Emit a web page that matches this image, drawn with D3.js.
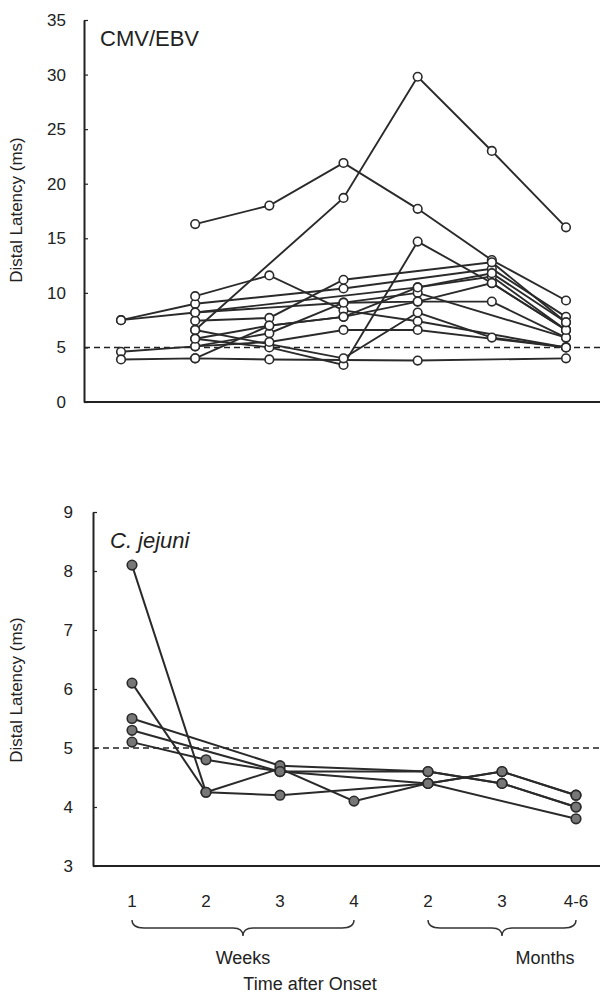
<!DOCTYPE html>
<html>
<head>
<meta charset="utf-8">
<script src="https://cdn.jsdelivr.net/npm/d3@7"></script>
<style>
  body { margin: 0; background: #fff; }
  text { font-family: "Liberation Sans", Arial, sans-serif; fill: #222; }
</style>
</head>
<body>
<div id="chart"></div>
<script>
// time points (x categories)
const timePoints = ["w1", "w2", "w3", "w4", "m2", "m3", "m46"];
const timeLabels = ["1", "2", "3", "4", "2", "3", "4-6"];

// top panel: CMV/EBV, distal latency (ms), null = not measured
const cmvSeries = [
  [null, 16.3, 18.0, 21.9, 17.7, 13.0, 9.3],
  [null, 6.6, null, 18.7, 29.8, 23.0, 16.0],
  [7.5, 9.0, null, 10.4, null, 12.2, 7.8],
  [7.5, 8.2, null, null, 10.5, 11.5, 6.6],
  [4.6, 5.1, 6.3, 9.1, 10.0, null, 5.9],
  [3.9, 4.0, 3.9, null, 3.8, null, 4.0],
  [null, 9.7, 11.6, 8.4, 7.4, null, 5.0],
  [null, 7.45, 7.7, 11.2, null, 12.8, 7.3],
  [null, 5.8, 5.0, 3.4, 14.7, 10.9, 6.6],
  [null, 5.1, 5.5, 6.6, 6.6, null, 5.0],
  [null, 4.0, 7.0, 7.8, 9.2, 9.2, 5.9],
  [null, 6.6, null, 4.0, 8.2, 5.9, 5.0],
  [null, 8.2, null, 9.1, 9.2, 10.9, 6.6],
  [null, 5.8, 7.0, 7.8, 10.5, 11.8, 7.3]
];
const cmvTicks = [0, 5, 10, 15, 20, 25, 30, 35];

// bottom panel: C. jejuni
const cjSeries = [
  [8.1, 4.25, 4.2, null, 4.4, 4.6, 4.2],
  [6.1, 4.25, 4.65, 4.1, 4.4, null, 3.8],
  [5.5, null, 4.7, null, 4.6, 4.4, 4.0],
  [5.3, null, 4.6, null, 4.4, 4.6, 4.2],
  [5.1, 4.8, 4.6, null, 4.6, 4.4, 4.0]
];
const cjTicks = [3, 4, 5, 6, 7, 8, 9];

const normalLimit = 5;

/** SVG */
const svg = d3.select("#chart").append("svg")
  .attr("width", 605).attr("height", 996);

function panel(opts) {
  const g = svg.append("g");
  const x = d3.scalePoint().domain(timePoints).range(opts.xRange);
  const y = d3.scaleLinear().domain(opts.yDomain).range(opts.yRange);

  // y axis
  const yAxis = d3.axisLeft(y).tickValues(opts.ticks).tickFormat(d3.format("d"))
    .tickSizeInner(-4).tickSizeOuter(0).tickPadding(opts.tickPad);
  const ya = g.append("g").attr("transform", `translate(${opts.axisX},0)`).call(yAxis);
  ya.select(".domain").attr("stroke", "#222").attr("stroke-width", 2);
  ya.selectAll(".tick line").attr("stroke", "#222").attr("stroke-width", 1.2);
  ya.selectAll(".tick text").style("font-size", "17px").attr("fill", "#222");

  // x axis line (no ticks)
  g.append("line")
    .attr("x1", opts.axisX).attr("x2", 600)
    .attr("y1", opts.yRange[0]).attr("y2", opts.yRange[0])
    .attr("stroke", "#222").attr("stroke-width", 2);

  // dashed normal limit
  g.append("line")
    .attr("x1", opts.axisX).attr("x2", 600)
    .attr("y1", y(normalLimit)).attr("y2", y(normalLimit))
    .attr("stroke", "#222").attr("stroke-width", 1.5)
    .attr("stroke-dasharray", "6,4");

  // y label
  g.append("text")
    .attr("transform", `translate(22,${opts.labelY}) rotate(-90)`)
    .attr("text-anchor", "middle")
    .style("font-size", "17px")
    .text("Distal Latency (ms)");

  // title
  g.append("text")
    .attr("x", opts.titleX).attr("y", opts.titleY)
    .style("font-size", "22px")
    .style("font-style", opts.italic ? "italic" : "normal")
    .text(opts.title);

  const line = d3.line()
    .x((d) => x(d.t)).y((d) => y(d.v));

  const rows = opts.series.map((s) =>
    s.map((v, i) => ({ t: timePoints[i], v })).filter((d) => d.v !== null));

  g.selectAll("path.series").data(rows).join("path")
    .attr("class", "series")
    .attr("d", line)
    .attr("fill", "none")
    .attr("stroke", "#2a2a2a")
    .attr("stroke-width", opts.lineWidth);

  g.selectAll("circle.pt").data(rows.flat()).join("circle")
    .attr("class", "pt")
    .attr("cx", (d) => x(d.t)).attr("cy", (d) => y(d.v))
    .attr("r", opts.r)
    .attr("fill", opts.dotFill)
    .attr("stroke", "#2a2a2a")
    .attr("stroke-width", 1.6);

  return x;
}

panel({
  series: cmvSeries, ticks: cmvTicks, yDomain: [0, 35], yRange: [402, 20],
  xRange: [121, 566], axisX: 84, tickPad: 18, labelY: 210,
  title: "CMV/EBV", titleX: 100, titleY: 46, italic: false,
  lineWidth: 1.9, r: 4.3, dotFill: "#fff"
});

const xb = panel({
  series: cjSeries, ticks: cjTicks, yDomain: [3, 9], yRange: [866, 512],
  xRange: [132, 576], axisX: 93, tickPad: 20, labelY: 690,
  title: "C. jejuni", titleX: 110, titleY: 548, italic: true,
  lineWidth: 2, r: 4.8, dotFill: "#777"
});

// time labels under bottom panel
svg.append("g").selectAll("text").data(timePoints).join("text")
  .attr("x", (d) => xb(d)).attr("y", 907)
  .attr("text-anchor", "middle")
  .style("font-size", "17px")
  .text((d, i) => timeLabels[i]);

// braces
function brace(x1, x2, yTop, depth) {
  const m = (x1 + x2) / 2, h = depth / 2;
  return `M${x1},${yTop} Q${x1},${yTop + h} ${x1 + 12},${yTop + h} L${m - 10},${yTop + h}` +
    ` Q${m},${yTop + h} ${m},${yTop + depth} Q${m},${yTop + h} ${m + 10},${yTop + h}` +
    ` L${x2 - 12},${yTop + h} Q${x2},${yTop + h} ${x2},${yTop}`;
}
svg.append("path").attr("d", brace(xb("w1"), xb("w4"), 920, 16))
  .attr("fill", "none").attr("stroke", "#333").attr("stroke-width", 1.4);
svg.append("path").attr("d", brace(xb("m2"), xb("m46"), 920, 16))
  .attr("fill", "none").attr("stroke", "#333").attr("stroke-width", 1.4);

svg.append("text").attr("x", (xb("w1") + xb("w4")) / 2).attr("y", 964)
  .attr("text-anchor", "middle").style("font-size", "18px").text("Weeks");
svg.append("text").attr("x", 545).attr("y", 964)
  .attr("text-anchor", "middle").style("font-size", "18px").text("Months");
svg.append("text").attr("x", 310).attr("y", 990)
  .attr("text-anchor", "middle").style("font-size", "18px").text("Time after Onset");
</script>
</body>
</html>
